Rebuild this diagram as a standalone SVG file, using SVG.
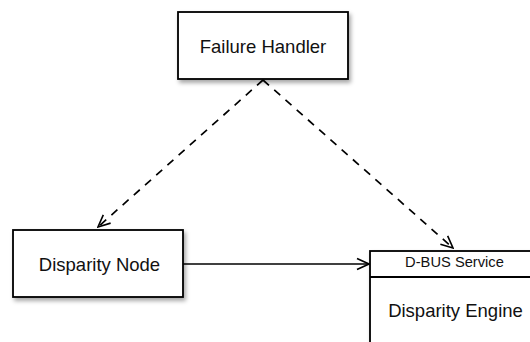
<svg xmlns="http://www.w3.org/2000/svg" width="530" height="342" viewBox="0 0 530 342">
<style>
.box{fill:#fff;stroke:#000;stroke-width:1.8}
.t{font-family:"Liberation Sans",Arial,sans-serif;fill:#111;text-anchor:middle}
.big{font-size:18.5px}
.small{font-size:14.7px}
.dash{fill:none;stroke:#000;stroke-width:1.7;stroke-dasharray:8 7}
.solid{fill:none;stroke:#000;stroke-width:1.5}
</style>
<defs>
<filter id="sh" x="-10%" y="-10%" width="130%" height="140%">
<feDropShadow dx="2" dy="3" stdDeviation="2" flood-color="#000" flood-opacity="0.35"/>
</filter>
<marker id="open" viewBox="0 0 14 14" refX="13" refY="7" markerWidth="14" markerHeight="14" markerUnits="userSpaceOnUse" orient="auto">
<path d="M1,1.5 L13,7 L1,12.5" fill="none" stroke="#000" stroke-width="1.6"/>
</marker>
</defs>
<g id="connectors">
<line class="dash" x1="263" y1="80" x2="98" y2="227" marker-end="url(#open)"/>
<line class="dash" x1="263" y1="80" x2="453" y2="248" marker-end="url(#open)"/>
<line class="solid" x1="183" y1="264" x2="369" y2="264" marker-end="url(#open)"/>
</g>
<g id="failure-handler">
<rect class="box" x="178" y="12" width="170" height="67" filter="url(#sh)"/>
<text class="t big" x="263" y="52.5">Failure Handler</text>
</g>
<g id="disparity-node">
<rect class="box" x="13" y="230" width="170" height="67" filter="url(#sh)"/>
<text class="t big" x="99.5" y="271">Disparity Node</text>
</g>
<g id="disparity-engine">
<rect class="box" x="370" y="251" width="170" height="130" filter="url(#sh)"/>
<line x1="370" y1="277" x2="540" y2="277" stroke="#000" stroke-width="1.8"/>
<text class="t small" x="454.5" y="266.5">D-BUS Service</text>
<text class="t big" x="455.5" y="316.5">Disparity Engine</text>
</g>
</svg>
